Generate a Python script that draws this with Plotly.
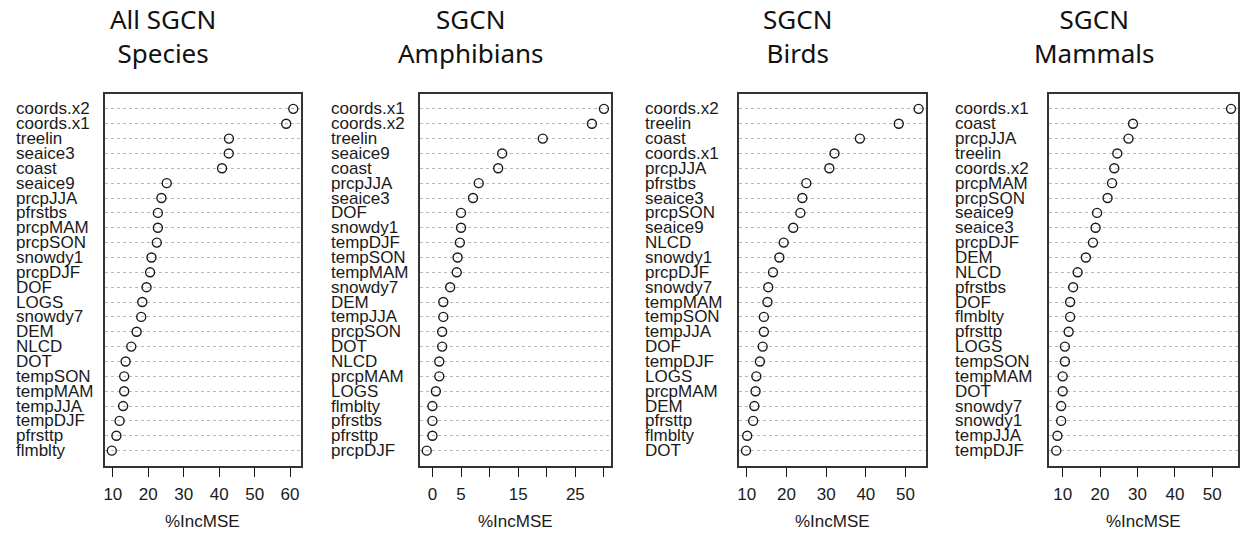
import plotly.graph_objects as go

# ---------------- data ----------------
titles = ["All SGCN<br>Species", "SGCN<br>Amphibians", "SGCN<br>Birds", "SGCN<br>Mammals"]

all_labels = ["coords.x2", "coords.x1", "treelin", "seaice3", "coast", "seaice9", "prcpJJA",
              "pfrstbs", "prcpMAM", "prcpSON", "snowdy1", "prcpDJF", "DOF", "LOGS", "snowdy7",
              "DEM", "NLCD", "DOT", "tempSON", "tempMAM", "tempJJA", "tempDJF", "pfrsttp", "flmblty"]
all_values = [60.9, 58.9, 42.75, 42.7, 40.8, 25.2, 23.7, 22.7, 22.7, 22.4, 20.9, 20.5, 19.5, 18.3,
              18.0, 16.7, 15.2, 13.6, 13.2, 13.2, 12.9, 11.9, 11.0, 9.7]

amph_labels = ["coords.x1", "coords.x2", "treelin", "seaice9", "coast", "prcpJJA", "seaice3", "DOF",
               "snowdy1", "tempDJF", "tempSON", "tempMAM", "snowdy7", "DEM", "tempJJA", "prcpSON",
               "DOT", "NLCD", "prcpMAM", "LOGS", "flmblty", "pfrstbs", "pfrsttp", "prcpDJF"]
amph_values = [30.0, 27.9, 19.3, 12.2, 11.5, 8.1, 7.1, 5.0, 5.0, 4.8, 4.4, 4.25, 3.1, 1.9, 1.9, 1.7,
               1.7, 1.2, 1.2, 0.6, 0.0, 0.0, 0.0, -1.0]

bird_labels = ["coords.x2", "treelin", "coast", "coords.x1", "prcpJJA", "pfrstbs", "seaice3", "prcpSON",
               "seaice9", "NLCD", "snowdy1", "prcpDJF", "snowdy7", "tempMAM", "tempSON", "tempJJA",
               "DOF", "tempDJF", "LOGS", "prcpMAM", "DEM", "pfrsttp", "flmblty", "DOT"]
bird_values = [53.3, 48.3, 38.5, 32.1, 30.8, 25.0, 24.0, 23.5, 21.7, 19.3, 18.2, 16.6, 15.4, 15.2,
               14.3, 14.3, 14.0, 13.3, 12.4, 12.2, 11.9, 11.6, 10.1, 9.8]

mamm_labels = ["coords.x1", "coast", "prcpJJA", "treelin", "coords.x2", "prcpMAM", "prcpSON", "seaice9",
               "seaice3", "prcpDJF", "DEM", "NLCD", "pfrstbs", "DOF", "flmblty", "pfrsttp", "LOGS",
               "tempSON", "tempMAM", "DOT", "snowdy7", "snowdy1", "tempJJA", "tempDJF"]
mamm_values = [55.0, 28.8, 27.6, 24.6, 23.8, 23.2, 22.0, 19.2, 18.8, 18.1, 16.2, 14.0, 12.8, 12.0,
               12.0, 11.6, 10.6, 10.6, 10.0, 10.0, 9.6, 9.6, 8.6, 8.3]

tick_vals = [[10, 20, 30, 40, 50, 60],
             [0, 5, 10, 15, 20, 25, 30],
             [10, 20, 30, 40, 50],
             [10, 20, 30, 40, 50]]
tick_text = [["10", "20", "30", "40", "50", "60"],
             ["0", "5", "", "15", "", "25", ""],
             ["10", "20", "30", "40", "50"],
             ["10", "20", "30", "40", "50"]]
x_title = "%IncMSE"

# ---------------- layout geometry ----------------
W, H = 1243, 535
panels = [(all_labels, all_values), (amph_labels, amph_values),
          (bird_labels, bird_values), (mamm_labels, mamm_values)]
x_dom_px = [(102.7, 299.0), (418.3, 610.0), (738.3, 925.0), (1049.0, 1238.0)]
label_x_px = [12, 328, 642, 953]
title_x_px = [161, 470, 797, 1094]
y_dom_px = (94.0, 465.5)

LABEL_FONT = "Liberation Sans, Arial, sans-serif"
TITLE_FONT = "Noto Sans, Open Sans, sans-serif"
INK = "#1a1a1a"

fig = go.Figure()
layout = dict(
    width=W, height=H,
    margin=dict(l=0, r=0, t=0, b=0),
    paper_bgcolor="white", plot_bgcolor="white",
    showlegend=False,
)
annotations = []

for i, (labels, values) in enumerate(panels):
    n = len(labels)
    ypos = [n - k for k in range(n)]
    sfx = "" if i == 0 else str(i + 1)
    fig.add_trace(go.Scatter(
        x=values, y=ypos, mode="markers",
        marker=dict(symbol="circle-open", size=9, color=INK, line=dict(width=1.4, color=INK)),
        xaxis="x" + sfx, yaxis="y" + sfx, hoverinfo="skip",
        text=labels,
    ))
    lo, hi = min(values), max(values)
    pad = 0.04 * (hi - lo)
    x0, x1 = x_dom_px[i]
    layout["xaxis" + sfx] = dict(
        domain=[x0 / W, x1 / W], range=[lo - pad, hi + pad], anchor="y" + sfx,
        tickvals=tick_vals[i], ticktext=tick_text[i],
        ticks="outside", ticklen=10, tickwidth=1.2, tickcolor=INK,
        showline=True, linecolor="#333333", linewidth=1.5, mirror=True,
        showgrid=False, zeroline=False, fixedrange=True,
        tickfont=dict(family=LABEL_FONT, size=17, color=INK),
        ticklabelstandoff=2,
    )
    layout["yaxis" + sfx] = dict(
        domain=[1 - y_dom_px[1] / H, 1 - y_dom_px[0] / H], range=[0, n + 1],
        anchor="x" + sfx,
        tickvals=ypos, showticklabels=False, ticks="",
        showgrid=True, gridcolor="#b8b8b8", griddash="dot", gridwidth=1,
        showline=True, linecolor="#333333", linewidth=1.5, mirror=True,
        zeroline=False, fixedrange=True,
    )
    # category labels, left aligned
    for lab, yp in zip(labels, ypos):
        annotations.append(dict(
            text=lab, x=label_x_px[i] / W, xref="paper", y=yp, yref="y" + sfx,
            xanchor="left", yanchor="middle", showarrow=False,
            font=dict(family=LABEL_FONT, size=17, color=INK),
        ))
    # x axis title
    annotations.append(dict(
        text=x_title, x=(x0 + x1) / 2 / W, xref="paper", y=1 - 521 / H, yref="paper",
        xanchor="center", yanchor="middle", showarrow=False,
        font=dict(family=LABEL_FONT, size=17, color=INK),
    ))
    # panel title
    annotations.append(dict(
        text=titles[i], x=title_x_px[i] / W, xref="paper", y=1 - 35.5 / H, yref="paper",
        xanchor="center", yanchor="middle", showarrow=False, align="center",
        font=dict(family=TITLE_FONT, size=26, color="#111111"),
    ))

layout["annotations"] = annotations
fig.update_layout(**layout)
fig.write_html("out.html", config={"displayModeBar": False},
               post_script="document.body.style.margin='0';document.body.style.overflow='hidden';")
